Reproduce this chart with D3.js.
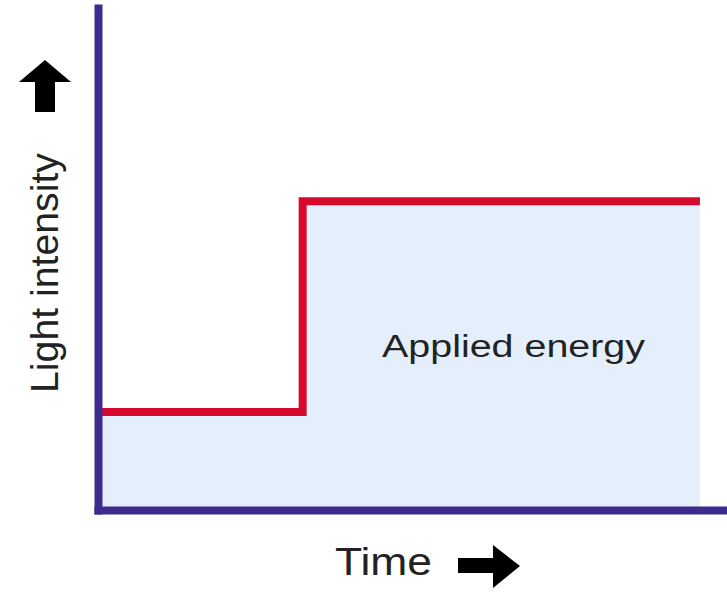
<!DOCTYPE html>
<html>
<head>
<meta charset="utf-8">
<script src="https://cdn.jsdelivr.net/npm/d3@7"></script>
<style>
  body { margin: 0; background: #fff; }
  text { font-family: 'Liberation Sans', Arial, sans-serif; fill: #222; }
</style>
</head>
<body>
<script>
// Data: light intensity steps up at one moment in time
const times = [0, 3.4, 10]
const levels = [1.95, 6.15, 6.15]
const xLabel = 'Time'
const yLabel = 'Light intensity'
const areaLabel = 'Applied energy'

const width = 727
const height = 595

const svg = d3.select('body').append('svg')
    .attr('width', width)
    .attr('height', height)

// Scales
const xScale = d3.scaleLinear()
    .domain([0, 10.45])
    .range([98, 727])

const yScale = d3.scaleLinear()
    .domain([0, 10])
    .range([510, 8])

const data = times.map((t, i) => ({ t, v: levels[i] }))

// Shaded area under the step
const area = d3.area()
    .x(d => xScale(d.t))
    .y0(yScale(0))
    .y1(d => yScale(d.v))
    .curve(d3.curveStepAfter)

svg.append('path')
    .datum(data)
    .attr('d', area)
    .style('fill', '#e4effb')

// Step line
const line = d3.line()
    .x(d => xScale(d.t))
    .y(d => yScale(d.v))
    .curve(d3.curveStepAfter)

svg.append('path')
    .datum(data)
    .attr('d', line)
    .style('fill', 'none')
    .style('stroke', '#d7092c')
    .style('stroke-width', 8)
    .style('stroke-linejoin', 'miter')

svg.append('text')
    .attr('x', 382)
    .attr('y', 357)
    .attr('font-size', 31)
    .attr('textLength', 263)
    .attr('lengthAdjust', 'spacingAndGlyphs')
    .text(areaLabel)

// Axes, no ticks
const axisColor = '#3c2a8c'

const yAxis = svg.append('g')
    .attr('transform', `translate(${xScale(0)}, 0)`)
    .call(d3.axisLeft(yScale).ticks(0).tickSizeOuter(0))
yAxis.select('.domain')
    .style('stroke', axisColor)
    .style('stroke-width', 8)
    .style('stroke-linecap', 'square')

const xAxis = svg.append('g')
    .attr('transform', `translate(0, ${yScale(0)})`)
    .call(d3.axisBottom(xScale).ticks(0).tickSizeOuter(0))
xAxis.select('.domain')
    .style('stroke', axisColor)
    .style('stroke-width', 8)
    .style('stroke-linecap', 'square')

// Axis labels
svg.append('text')
    .attr('x', 335)
    .attr('y', 575)
    .attr('font-size', 39)
    .attr('textLength', 97)
    .attr('lengthAdjust', 'spacingAndGlyphs')
    .text(xLabel)

svg.append('text')
    .attr('transform', 'translate(58, 273) rotate(-90)')
    .attr('text-anchor', 'middle')
    .attr('font-size', 39)
    .attr('textLength', 240)
    .attr('lengthAdjust', 'spacingAndGlyphs')
    .text(yLabel)

// Block arrows
const upArrow = [[45, 60], [71, 82], [55, 82], [55, 112], [35, 112], [35, 82], [19, 82]]
const rightArrow = [[520, 566], [493, 588], [493, 573], [458, 573], [458, 558], [493, 558], [493, 545]]

svg.selectAll('.arrow')
    .data([upArrow, rightArrow])
    .enter().append('path')
    .attr('class', 'arrow')
    .attr('d', d => 'M' + d.join('L') + 'Z')
    .style('fill', '#000')
</script>
</body>
</html>
